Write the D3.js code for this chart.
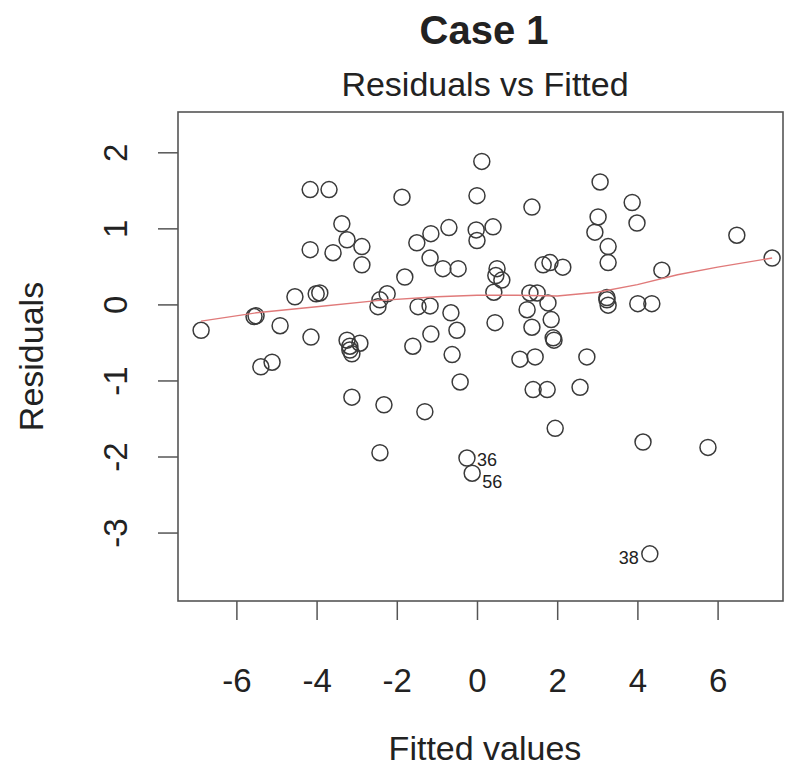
<!DOCTYPE html>
<html>
<head>
<meta charset="utf-8">
<script src="https://cdn.jsdelivr.net/npm/d3@7"></script>
<style>
    body { margin: 0; background: #fff; }
    text { font-family: "Liberation Sans", Arial, sans-serif; fill: #222; }
</style>
</head>
<body>
<svg id="chart" width="790" height="768"></svg>
<script>
// fitted values and residuals
const fitted = [-6.88, -5.56, -5.51, -5.39, -5.11, -4.91, -4.54, -4.14, -4.01, -3.92,
    -4.16, -3.69, -4.16, -3.59, -3.37, -3.24, -2.87, -2.87, -3.24, -3.17,
    -3.12, -2.92, -3.12, -2.42, -2.24, -2.47, -2.32, -2.42, -1.87, -1.80,
    -1.60, -1.50, -1.15, -0.70, -1.17, -0.85, -0.47, -1.47, -1.17, -0.65,
    -0.50, -1.15, -1.30, -0.62, -0.42, -0.25, -0.12, 0.12, 0.00, -0.02,
    0.40, 0.00, 0.50, 0.62, 0.42, 0.45, 1.37, 1.32, 1.50, 1.25,
    1.77, 1.85, 1.37, 1.92, 1.65, 1.82, 2.14, 1.07, 1.45, 1.40,
    1.75, 2.57, 2.74, 1.95, 3.07, 3.02, 2.94, 3.27, 3.27, 3.24,
    3.27, 3.87, 3.99, 4.01, 4.36, 4.14, 4.31, 4.61, 5.76, 6.48,
    7.36, -3.17, 0.47, 1.90, 3.24]
const residuals = [-0.34, -0.16, -0.15, -0.82, -0.76, -0.28, 0.10, -0.43, 0.14, 0.15,
    1.51, 1.51, 0.72, 0.68, 1.06, 0.85, 0.76, 0.52, -0.47, -0.60,
    -0.65, -0.51, -1.22, 0.06, 0.14, -0.03, -1.32, -1.95, 1.41, 0.36,
    -0.55, 0.81, 0.93, 1.01, 0.61, 0.47, 0.47, -0.03, -0.02, -0.11,
    -0.34, -0.39, -1.41, -0.66, -1.02, -2.02, -2.22, 1.88, 1.43, 0.98,
    1.02, 0.84, 0.47, 0.32, 0.16, -0.24, 1.28, 0.15, 0.15, -0.07,
    0.02, -0.20, -0.30, -0.47, 0.52, 0.55, 0.49, -0.72, -0.69, -1.12,
    -1.12, -1.09, -0.69, -1.63, 1.61, 1.15, 0.95, 0.76, 0.55, 0.06,
    -0.01, 1.34, 1.07, 0.01, 0.01, -1.81, -3.28, 0.45, -1.88, 0.91,
    0.61, -0.55, 0.38, -0.44, 0.09]
// the three most extreme residuals get their observation number
const idIndex = [86, 45, 46]
const idLabels = ["38", "36", "56"]

// red smoother through the points
const smoothX = [-6.88, -5.5, -4.0, -2.5, -1.0, 0.0, 1.0, 2.0, 3.0, 4.0, 5.0, 6.0, 7.36]
const smoothY = [-0.22, -0.11, -0.03, 0.05, 0.10, 0.12, 0.12, 0.11, 0.16, 0.26, 0.39, 0.49, 0.61]

const xTicks = [-6, -4, -2, 0, 2, 4, 6]
const yTicks = [-3, -2, -1, 0, 1, 2]

const box = { left: 178, right: 783, top: 112, bottom: 601 }

const svg = d3.select("#chart")

const x = d3.scaleLinear()
    .domain([-7.456, 7.631])
    .range([box.left, box.right])
const y = d3.scaleLinear()
    .domain([-3.90, 2.53])
    .range([box.bottom, box.top])

/* axes: ticks only, the frame is drawn separately. R prints a plain hyphen */
const plain = d => String(d)
const xAxis = svg.append("g")
    .attr("transform", `translate(0,${box.bottom})`)
    .call(d3.axisBottom(x).tickValues(xTicks).tickSize(19).tickPadding(52).tickFormat(plain))
const yAxis = svg.append("g")
    .attr("transform", `translate(${box.left},0)`)
    .call(d3.axisLeft(y).tickValues(yTicks).tickSize(20).tickPadding(0).tickFormat(plain))

svg.selectAll(".domain").remove()
svg.selectAll(".tick line").attr("stroke", "#555").attr("stroke-width", 1.5)
xAxis.selectAll("text")
    .attr("font-size", 33)
    .attr("dy", 0)
    .attr("y", 91)
    .attr("fill", "#222")
yAxis.selectAll("text")
    .attr("font-size", 33)
    .attr("text-anchor", "middle")
    .attr("fill", "#222")
    .attr("x", 0)
    .attr("dy", 0)
    .attr("transform", "translate(-51,0) rotate(-90)")

svg.append("rect")
    .attr("x", box.left)
    .attr("y", box.top)
    .attr("width", box.right - box.left)
    .attr("height", box.bottom - box.top)
    .attr("fill", "none")
    .attr("stroke", "#555")
    .attr("stroke-width", 1.6)

const points = fitted.map((f, i) => ({ f, r: residuals[i] }))

svg.append("g")
    .selectAll("circle")
    .data(points)
    .join("circle")
    .attr("cx", d => x(d.f))
    .attr("cy", d => y(d.r))
    .attr("r", 8)
    .attr("fill", "none")
    .attr("stroke", "#3a3a3a")
    .attr("stroke-width", 1.5)

svg.append("path")
    .datum(smoothX.map((v, i) => [v, smoothY[i]]))
    .attr("d", d3.line().x(d => x(d[0])).y(d => y(d[1])))
    .attr("fill", "none")
    .attr("stroke", "#e07a7a")
    .attr("stroke-width", 1.4)

/* id labels go left of points right of centre, right of the others.
   Labels that sit on top of each other get pushed apart a little */
const mid = d3.mean(d3.extent(fitted))
const labelFont = 18
const labels = idIndex.map((i, k) => ({
    text: idLabels[k],
    right: fitted[i] <= mid,
    px: x(fitted[i]),
    py: y(residuals[i]) + labelFont * 0.35
})).sort((a, b) => a.py - b.py)
labels.forEach((l, k) => {
    const prev = labels[k - 1]
    if (prev && Math.abs(prev.px - l.px) < 30 && l.py - prev.py < labelFont * 1.2) {
        prev.py -= 2
        l.py = prev.py + labelFont * 1.2
    }
})

svg.append("g")
    .selectAll("text")
    .data(labels)
    .join("text")
    .attr("x", d => d.right ? d.px + 10 : d.px - 11)
    .attr("y", d => d.py + 4)
    .attr("text-anchor", d => d.right ? "start" : "end")
    .attr("font-size", labelFont)
    .text(d => d.text)

// titles
svg.append("text")
    .attr("x", 484)
    .attr("y", 44)
    .attr("text-anchor", "middle")
    .attr("font-size", 40)
    .attr("font-weight", "bold")
    .text("Case 1")
svg.append("text")
    .attr("x", 485)
    .attr("y", 96)
    .attr("text-anchor", "middle")
    .attr("font-size", 34)
    .text("Residuals vs Fitted")
svg.append("text")
    .attr("x", 485)
    .attr("y", 760)
    .attr("text-anchor", "middle")
    .attr("font-size", 34)
    .text("Fitted values")
svg.append("text")
    .attr("transform", `translate(43,${(box.top + box.bottom) / 2}) rotate(-90)`)
    .attr("text-anchor", "middle")
    .attr("font-size", 34)
    .text("Residuals")
</script>
</body>
</html>
